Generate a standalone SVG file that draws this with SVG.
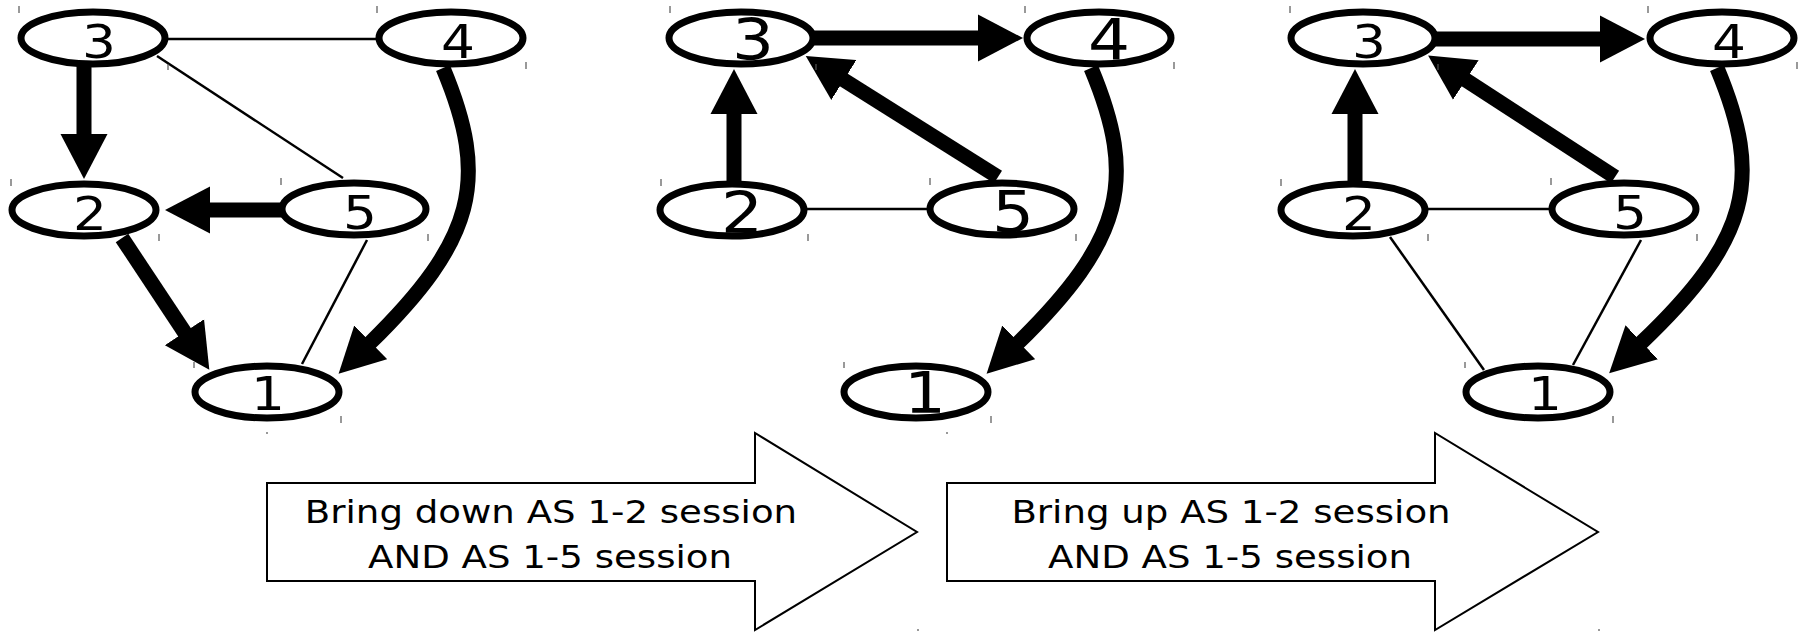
<svg xmlns="http://www.w3.org/2000/svg" width="1807" height="633" viewBox="0 0 1807 633">
  <style>
    .node { fill: #fff; stroke: #000; stroke-width: 7; }
    .lbl { font-family: "DejaVu Sans", "Liberation Sans", sans-serif; font-size: 46px; fill: #000; text-anchor: middle; }
    .lbl.big { font-size: 57px; }
    .thin { fill: none; stroke: #000; stroke-width: 2.5; }
    .thick { fill: none; stroke: #000; stroke-width: 15; marker-end: url(#head); }
    .tick { stroke: #555; stroke-width: 1.2; }
    .step { fill: #fff; stroke: #000; stroke-width: 2; stroke-linejoin: miter; }
    .steptxt { font-family: "DejaVu Sans", "Liberation Sans", sans-serif; font-size: 32px; fill: #000; text-anchor: middle; }
  </style>
  <defs>
    <marker id="head" markerUnits="userSpaceOnUse" viewBox="0 0 46 48" markerWidth="46" markerHeight="48" refX="1" refY="24" orient="auto">
      <path d="M0,0.5 L45,24 L0,47.5 Z" fill="#000"/>
    </marker>
  </defs>

  <!-- Panel 1: initial state -->
  <g id="panel1">
    <g id="p1-edges">
      <line class="thin" x1="165" y1="39" x2="379" y2="39"/>
      <line class="thin" x1="157" y1="56" x2="343" y2="178"/>
      <line class="thin" x1="367" y1="240" x2="302" y2="364"/>
      <line class="thick" x1="84" y1="66" x2="84" y2="135"/>
      <line class="thick" x1="282" y1="210" x2="209" y2="210"/>
      <line class="thick" x1="122" y1="238" x2="185" y2="333"/>
      <path class="thick" d="M443,68 C490,180 475,240 370,343"/>
    </g>
    <g id="p1-n3"><ellipse class="node" cx="93" cy="38" rx="72" ry="26"/><text class="lbl" transform="translate(99,58) scale(1.16,1)">3</text><line class="tick" x1="19" y1="6" x2="19" y2="13"/><line class="tick" x1="168" y1="64" x2="168" y2="70"/></g>
    <g id="p1-n4"><ellipse class="node" cx="451" cy="38" rx="72" ry="26"/><text class="lbl" transform="translate(458,58) scale(1.16,1)">4</text><line class="tick" x1="377" y1="6" x2="377" y2="13"/><line class="tick" x1="526" y1="62" x2="526" y2="69"/></g>
    <g id="p1-n2"><ellipse class="node" cx="84" cy="210" rx="72" ry="26"/><text class="lbl" transform="translate(90,230) scale(1.16,1)">2</text><line class="tick" x1="11" y1="179" x2="11" y2="186"/><line class="tick" x1="159" y1="234" x2="159" y2="241"/></g>
    <g id="p1-n5"><ellipse class="node" cx="354" cy="209" rx="72" ry="26"/><text class="lbl" transform="translate(360,229) scale(1.16,1)">5</text><line class="tick" x1="281" y1="178" x2="281" y2="185"/><line class="tick" x1="428" y1="234" x2="428" y2="241"/></g>
    <g id="p1-n1"><ellipse class="node" cx="267" cy="392" rx="72" ry="26"/><text class="lbl" transform="translate(268,410) scale(1.16,1)">1</text><line class="tick" x1="194" y1="362" x2="194" y2="368"/><line class="tick" x1="341" y1="416" x2="341" y2="423"/></g>
  </g>

  <!-- Panel 2: AS 1-2 and AS 1-5 sessions down -->
  <g id="panel2" transform="translate(648,0)">
    <g id="p2-edges">
      <line class="thin" x1="156" y1="209" x2="282" y2="209"/>
      <line class="thick" x1="165" y1="38" x2="331" y2="38"/>
      <line class="thick" x1="350" y1="177" x2="195" y2="79.5"/>
      <line class="thick" x1="86" y1="186" x2="86" y2="113"/>
      <path class="thick" d="M443,68 C490,180 475,240 370,343"/>
    </g>
    <g id="p2-n3"><ellipse class="node" cx="93" cy="38" rx="72" ry="26"/><text class="lbl big" transform="translate(105,60) scale(1.16,1)">3</text><line class="tick" x1="22" y1="6" x2="22" y2="13"/><line class="tick" x1="168" y1="64" x2="168" y2="70"/></g>
    <g id="p2-n4"><ellipse class="node" cx="451" cy="38" rx="72" ry="26"/><text class="lbl big" transform="translate(461,60) scale(1.16,1)">4</text><line class="tick" x1="377" y1="6" x2="377" y2="13"/><line class="tick" x1="526" y1="62" x2="526" y2="69"/></g>
    <g id="p2-n2"><ellipse class="node" cx="84" cy="210" rx="72" ry="26"/><text class="lbl big" transform="translate(94,233) scale(1.16,1)">2</text><line class="tick" x1="13" y1="179" x2="13" y2="186"/><line class="tick" x1="160" y1="234" x2="160" y2="241"/></g>
    <g id="p2-n5"><ellipse class="node" cx="354" cy="209" rx="72" ry="26"/><text class="lbl big" transform="translate(365,232) scale(1.16,1)">5</text><line class="tick" x1="282" y1="178" x2="282" y2="185"/><line class="tick" x1="428" y1="234" x2="428" y2="241"/></g>
    <g id="p2-n1"><ellipse class="node" cx="268" cy="392" rx="72" ry="26"/><text class="lbl big" transform="translate(277,413) scale(1.16,1)">1</text><line class="tick" x1="196" y1="362" x2="196" y2="368"/><line class="tick" x1="343" y1="416" x2="343" y2="423"/></g>
  </g>

  <!-- Panel 3: sessions brought back up -->
  <g id="panel3" transform="translate(1270,0)">
    <g id="p3-edges">
      <line class="thin" x1="156" y1="209" x2="282" y2="209"/>
      <line class="thin" x1="120" y1="237" x2="214" y2="370"/>
      <line class="thin" x1="371" y1="240" x2="303" y2="365"/>
      <line class="thick" x1="165" y1="39" x2="331" y2="39"/>
      <line class="thick" x1="345" y1="177" x2="195" y2="79.5"/>
      <line class="thick" x1="85" y1="186" x2="85" y2="113"/>
      <path class="thick" d="M447,68 C494,180 479,240 371,343"/>
    </g>
    <g id="p3-n3"><ellipse class="node" cx="93" cy="38" rx="72" ry="26"/><text class="lbl" transform="translate(99,58) scale(1.16,1)">3</text><line class="tick" x1="20" y1="6" x2="20" y2="13"/><line class="tick" x1="168" y1="64" x2="168" y2="70"/></g>
    <g id="p3-n4"><ellipse class="node" cx="452" cy="38" rx="72" ry="26"/><text class="lbl" transform="translate(459,58) scale(1.16,1)">4</text><line class="tick" x1="378" y1="6" x2="378" y2="13"/><line class="tick" x1="527" y1="62" x2="527" y2="69"/></g>
    <g id="p3-n2"><ellipse class="node" cx="83" cy="210" rx="72" ry="26"/><text class="lbl" transform="translate(89,230) scale(1.16,1)">2</text><line class="tick" x1="11" y1="179" x2="11" y2="186"/><line class="tick" x1="158" y1="234" x2="158" y2="241"/></g>
    <g id="p3-n5"><ellipse class="node" cx="354" cy="209" rx="72" ry="26"/><text class="lbl" transform="translate(360,229) scale(1.16,1)">5</text><line class="tick" x1="281" y1="178" x2="281" y2="185"/><line class="tick" x1="427" y1="234" x2="427" y2="241"/></g>
    <g id="p3-n1"><ellipse class="node" cx="268" cy="392" rx="72" ry="26"/><text class="lbl" transform="translate(275,410) scale(1.16,1)">1</text><line class="tick" x1="195" y1="362" x2="195" y2="368"/><line class="tick" x1="343" y1="416" x2="343" y2="423"/></g>
  </g>

  <!-- Transition arrows -->
  <g id="step-down">
    <polygon class="step" points="267,483 755,483 755,433 917,532 755,630 755,581 267,581"/>
    <text class="steptxt" transform="translate(551,523) scale(1.16,1)">Bring down AS 1-2 session</text>
    <text class="steptxt" transform="translate(550,568) scale(1.16,1)">AND AS 1-5 session</text>
    <line class="tick" x1="267" y1="432" x2="267" y2="434"/>
    <line class="tick" x1="918" y1="629" x2="918" y2="631"/>
  </g>
  <g id="step-up">
    <polygon class="step" points="947,483 1435,483 1435,433 1598,532 1435,630 1435,581 947,581"/>
    <text class="steptxt" transform="translate(1231,523) scale(1.16,1)">Bring up AS 1-2 session</text>
    <text class="steptxt" transform="translate(1230,568) scale(1.16,1)">AND AS 1-5 session</text>
    <line class="tick" x1="947" y1="432" x2="947" y2="434"/>
    <line class="tick" x1="1599" y1="629" x2="1599" y2="631"/>
  </g>
</svg>
